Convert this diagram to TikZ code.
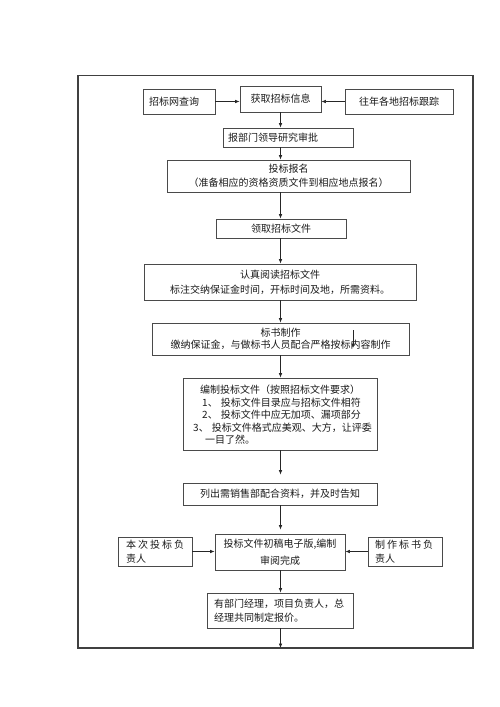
\documentclass[tikz,border=0pt]{standalone}
\usepackage{fontspec}
\newfontfamily\cjk{Noto Sans CJK SC}
\usetikzlibrary{arrows.meta}
\definecolor{boxc}{HTML}{4A4A4A}
\definecolor{txt}{HTML}{1A1A1A}
\newcommand{\cjsp}{\hspace{2pt}}
\begin{document}
\begin{tikzpicture}[x=1pt,y=-1pt,
 box/.style={draw=boxc, line width=0.9pt, inner sep=0pt, font=\cjk\fontsize{10}{14}\selectfont, text=txt, align=center},
 lbl/.style={inner sep=0pt, font=\cjk\fontsize{10}{12}\selectfont, text=txt, anchor=west},
 arr/.style={draw=black!85, line width=0.7pt, -{Latex[length=4.5pt,width=3.6pt]}}]
\useasboundingbox (0,0) rectangle (500,707);
% outer frame
\node[draw=black!75, line width=1.1pt, minimum width=395pt, minimum height=572.5pt, inner sep=0pt] (frame) at (275.5,361.75) {};
\coordinate (spine) at (280.5,0);
\coordinate (bot) at (280.5,648);
% boxes
\node[box, minimum width=72pt, minimum height=25pt, text width=60pt, inner xsep=6pt, align=left] (web) at (179,101.5) {招标网查询};
\node[box, minimum width=81pt, minimum height=26pt] (info) at (280.5,99) {\raisebox{2pt}{获取招标信息}};
\node[box, minimum width=108pt, minimum height=25pt] (track) at (399,101.5) {往年各地招标跟踪};
\node[box, minimum width=130pt, minimum height=19pt, text width=120pt, inner xsep=5pt, align=left] (approve) at (288,137.5) {报部门领导研究审批};
\node[box, minimum width=243pt, minimum height=32pt] (signup) at (288.5,176) {投标报名\\（准备相应的资格资质文件到相应地点报名）};
\node[box, minimum width=130pt, minimum height=19pt] (fetch) at (281,228.5) {领取招标文件};
\node[box, minimum width=272pt, minimum height=36pt, font=\cjk\fontsize{10}{15}\selectfont] (read) at (280,282) {认真阅读招标文件\\标注交纳保证金时间，开标时间及地，所需资料。};
\node[box, minimum width=257pt, minimum height=32pt, font=\cjk\fontsize{10}{12}\selectfont] (make) at (280.5,339) {标书制作\\缴纳保证金，与做标书人员配合严格按标内容制作};
\node[box, minimum width=194pt, minimum height=72pt] (compile) at (280,414) {};
\node[lbl] (c1) at (200,390) {编制投标文件（按照招标文件要求）};
\node[lbl] (c2) at (202,402.5) {1、\hspace{3pt}投标文件目录应与招标文件相符};
\node[lbl] (c3) at (202,415) {2、\hspace{3pt}投标文件中应无加项、漏项部分};
\node[lbl] (c4) at (193,427.5) {3、\hspace{3pt}投标文件格式应美观、大方，让评委};
\node[lbl] (c5) at (205,440) {一目了然。};
\node[box, minimum width=194pt, minimum height=22pt] (list) at (280,494) {列出需销售部配合资料，并及时告知};
\node[box, minimum width=130pt, minimum height=36pt, font=\cjk\fontsize{10}{17}\selectfont] (draft) at (280,552) {投标文件初稿电子版,编制\\审阅完成};
\node[box, minimum width=74pt, minimum height=29pt, text width=58pt, inner xsep=8pt, align=left] (resp1) at (155,551.5) {本\cjsp 次\cjsp 投\cjsp 标\cjsp 负\\责人};
\node[box, minimum width=74pt, minimum height=29pt, text width=60pt, inner xsep=7pt, align=left] (resp2) at (405,551.5) {制\cjsp 作\cjsp 标\cjsp 书\cjsp 负\\责人};
\node[box, minimum width=146pt, minimum height=35pt, text width=132pt, inner xsep=7pt, align=left] (price) at (280,610.5) {有部门经理，项目负责人，总\\经理共同制定报价。};
% odd arrow inside make box
\coordinate (oddA) at (353,330);
\coordinate (oddB) at (353,348);
% connectors
\draw[arr] (web.east) -- (web.east -| info.west);
\draw[arr] (track.west) -- (track.west -| info.east);
\draw[arr] (info.south -| spine) -- (approve.north -| spine);
\draw[arr] (approve.south -| spine) -- (signup.north -| spine);
\draw[arr] (signup.south -| spine) -- (fetch.north -| spine);
\draw[arr] (fetch.south -| spine) -- (read.north -| spine);
\draw[arr] (read.south -| spine) -- (make.north -| spine);
\draw[arr] (make.south -| spine) -- (compile.north -| spine);
\draw[arr, shorten >=8pt] (compile.south -| spine) -- (list.north -| spine);
\draw[arr, shorten >=4pt] (list.south -| spine) -- (draft.north -| spine);
\draw[arr] (draft.south -| spine) -- (price.north -| spine);
\draw[arr] (price.south -| spine) -- (bot);
\draw[arr] (resp1.east) -- (resp1.east -| draft.west);
\draw[arr] (resp2.west) -- (resp2.west -| draft.east);
\draw[arr] (oddA) -- (oddB);
\end{tikzpicture}
\end{document}
